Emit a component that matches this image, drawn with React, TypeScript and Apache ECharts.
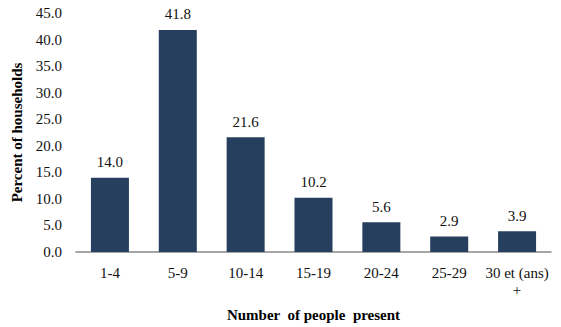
import React, { useEffect, useRef } from "react";
import * as echarts from "echarts";

const categories = ["1-4", "5-9", "10-14", "15-19", "20-24", "25-29", "30 et (ans)\n+"];
const percentOfHouseholds = [14.0, 41.8, 21.6, 10.2, 5.6, 2.9, 3.9];

const yTitle = "Percent of households";
const xTitle = "Number  of people  present";

const FONT = "serif";

export default function App() {
  const ref = useRef<HTMLDivElement>(null);

  useEffect(() => {
    if (!ref.current) return;
    const chart = echarts.init(ref.current, undefined, { renderer: "svg" });
    chart.setOption({
      animation: false,
      backgroundColor: "#ffffff",
      textStyle: { fontFamily: FONT },
      grid: { left: 76, right: 10, top: 13, bottom: 75 },
      xAxis: {
        type: "category",
        data: categories,
        name: xTitle,
        nameLocation: "middle",
        nameGap: 55,
        nameTextStyle: { fontFamily: FONT, fontSize: 15, fontWeight: "bold", color: "#000" },
        axisLine: { show: true, lineStyle: { color: "#888888", width: 1.5 } },
        axisTick: { show: false },
        axisLabel: {
          fontFamily: FONT,
          fontSize: 15,
          color: "#111",
          margin: 12,
          lineHeight: 17,
          interval: 0,
        },
      },
      yAxis: {
        type: "value",
        min: 0,
        max: 45,
        interval: 5,
        name: yTitle,
        nameLocation: "middle",
        nameGap: 52,
        nameRotate: 90,
        nameTextStyle: { fontFamily: FONT, fontSize: 15, fontWeight: "bold", color: "#000" },
        axisLine: { show: false },
        axisTick: { show: false },
        splitLine: { show: false },
        axisLabel: {
          fontFamily: FONT,
          fontSize: 15,
          color: "#111",
          margin: 14,
          formatter: (v: number) => v.toFixed(1),
        },
      },
      series: [
        {
          type: "bar",
          data: percentOfHouseholds,
          barWidth: "56%",
          itemStyle: { color: "#263f5f" },
          label: {
            show: true,
            position: "top",
            distance: 8,
            fontFamily: FONT,
            fontSize: 15,
            color: "#111",
            formatter: (p: { value: number }) => p.value.toFixed(1),
          },
        },
      ],
    });
    return () => chart.dispose();
  }, []);

  return (
    <div
      ref={ref}
      style={{ position: "fixed", left: 0, top: 0, width: 561, height: 327, background: "#fff" }}
    />
  );
}
